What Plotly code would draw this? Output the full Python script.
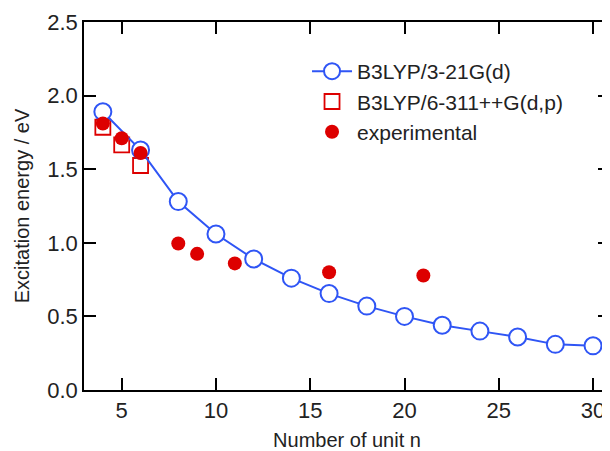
import plotly.graph_objects as go

# Data
n_321 = [4, 6, 8, 10, 12, 14, 16, 18, 20, 22, 24, 26, 28, 30]
e_321 = [1.89, 1.63, 1.28, 1.06, 0.89, 0.76, 0.655, 0.57, 0.50, 0.44, 0.40, 0.36, 0.31, 0.30]

n_6311 = [4, 5, 6]
e_6311 = [1.785, 1.665, 1.525]

n_exp = [4, 5, 6, 8, 9, 11, 16, 21]
e_exp = [1.81, 1.71, 1.61, 0.995, 0.925, 0.86, 0.80, 0.778]

x_ticks = [5, 10, 15, 20, 25, 30]
y_ticks = [0.0, 0.5, 1.0, 1.5, 2.0, 2.5]

BLUE = "#2f55f5"
RED = "#dd0000"
TXT = "#222222"
FONT = "Liberation Sans, Arial, sans-serif"

fig = go.Figure()

fig.add_trace(go.Scatter(
    x=n_6311, y=e_6311, mode="markers", name="B3LYP/6-311++G(d,p)",
    marker=dict(symbol="square-open", size=15, color=RED, line=dict(width=1.8, color=RED)),
    legendrank=2,
))
fig.add_trace(go.Scatter(
    x=n_321, y=e_321, mode="lines+markers", name="B3LYP/3-21G(d)",
    line=dict(color=BLUE, width=2),
    marker=dict(symbol="circle", size=17, color="white", line=dict(width=2, color=BLUE)),
    legendrank=1,
))
fig.add_trace(go.Scatter(
    x=n_exp, y=e_exp, mode="markers", name="experimental",
    marker=dict(symbol="circle", size=14, color=RED),
    legendrank=3,
))

axis_common = dict(
    showline=True, linecolor="black", linewidth=1.5, mirror="ticks",
    ticks="inside", ticklen=12, tickwidth=1.5, tickcolor="black",
    showgrid=False, zeroline=False, automargin=False,
    tickfont=dict(family=FONT, size=22, color=TXT),
)

fig.update_xaxes(
    range=[3.0, 30.9], tickvals=x_ticks, ticktext=[str(v) for v in x_ticks],
    title=dict(text="Number of unit n", font=dict(family=FONT, size=20, color=TXT), standoff=11),
    **axis_common,
)
fig.update_yaxes(
    range=[0, 2.5], tickvals=y_ticks, ticktext=[f"{v:.1f}" for v in y_ticks],
    title=dict(text="Excitation energy / eV", font=dict(family=FONT, size=20, color=TXT), standoff=12),
    **axis_common,
)

# The page body adds an 8 px offset, so the figure is sized 8 px smaller.
fig.update_layout(
    width=602, height=443,
    margin=dict(l=76, r=0, t=14, b=61),
    plot_bgcolor="white", paper_bgcolor="white",
    legend=dict(
        x=0.424, y=0.921, xanchor="left", yanchor="top",
        font=dict(family=FONT, size=21, color=TXT),
        bgcolor="rgba(0,0,0,0)", itemwidth=40,
        tracegroupgap=0,
    ),
)

fig.write_html("out.html")
